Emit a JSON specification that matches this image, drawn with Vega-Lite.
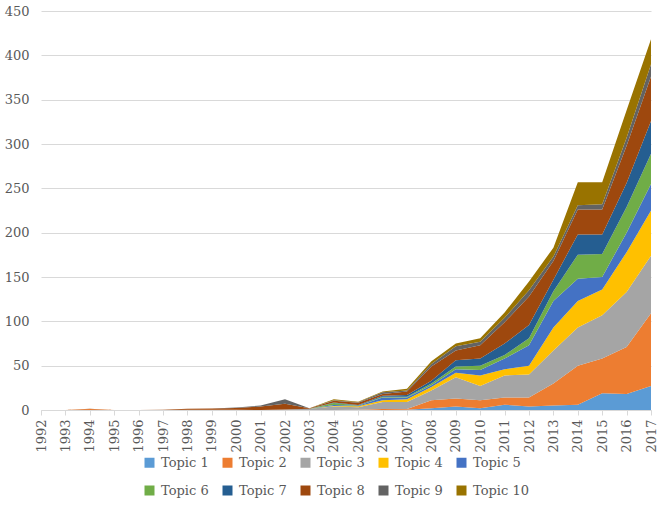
{
  "$schema": "https://vega.github.io/schema/vega-lite/v6.json",
  "autosize": {"type": "none"},
  "width": 610,
  "height": 399,
  "padding": {"left": 41, "top": 11, "right": 9, "bottom": 104},
  "background": "white",
  "config": {
    "view": {"stroke": null},
    "font": "DejaVu Serif",
    "axis": {"labelFont": "DejaVu Serif", "labelColor": "#595959", "labelFontSize": 13, "titleFontSize": 0},
    "legend": {"labelFont": "DejaVu Serif", "labelColor": "#595959", "labelFontSize": 13}
  },
  "datasets": {
    "topics": [
      {"year":1992,"topic":"Topic 1","k":1,"v":0},{"year":1992,"topic":"Topic 2","k":2,"v":0},{"year":1992,"topic":"Topic 3","k":3,"v":0},{"year":1992,"topic":"Topic 4","k":4,"v":0},{"year":1992,"topic":"Topic 5","k":5,"v":0},{"year":1992,"topic":"Topic 6","k":6,"v":0},{"year":1992,"topic":"Topic 7","k":7,"v":0},{"year":1992,"topic":"Topic 8","k":8,"v":0},{"year":1992,"topic":"Topic 9","k":9,"v":0},{"year":1992,"topic":"Topic 10","k":10,"v":0},
      {"year":1993,"topic":"Topic 1","k":1,"v":0},{"year":1993,"topic":"Topic 2","k":2,"v":0},{"year":1993,"topic":"Topic 3","k":3,"v":0},{"year":1993,"topic":"Topic 4","k":4,"v":0},{"year":1993,"topic":"Topic 5","k":5,"v":0},{"year":1993,"topic":"Topic 6","k":6,"v":0},{"year":1993,"topic":"Topic 7","k":7,"v":0},{"year":1993,"topic":"Topic 8","k":8,"v":0},{"year":1993,"topic":"Topic 9","k":9,"v":0},{"year":1993,"topic":"Topic 10","k":10,"v":0},
      {"year":1994,"topic":"Topic 1","k":1,"v":0},{"year":1994,"topic":"Topic 2","k":2,"v":1.0},{"year":1994,"topic":"Topic 3","k":3,"v":0},{"year":1994,"topic":"Topic 4","k":4,"v":0},{"year":1994,"topic":"Topic 5","k":5,"v":0},{"year":1994,"topic":"Topic 6","k":6,"v":0},{"year":1994,"topic":"Topic 7","k":7,"v":0},{"year":1994,"topic":"Topic 8","k":8,"v":0.5},{"year":1994,"topic":"Topic 9","k":9,"v":0},{"year":1994,"topic":"Topic 10","k":10,"v":0},
      {"year":1995,"topic":"Topic 1","k":1,"v":0},{"year":1995,"topic":"Topic 2","k":2,"v":0},{"year":1995,"topic":"Topic 3","k":3,"v":0},{"year":1995,"topic":"Topic 4","k":4,"v":0},{"year":1995,"topic":"Topic 5","k":5,"v":0},{"year":1995,"topic":"Topic 6","k":6,"v":0},{"year":1995,"topic":"Topic 7","k":7,"v":0},{"year":1995,"topic":"Topic 8","k":8,"v":0},{"year":1995,"topic":"Topic 9","k":9,"v":0},{"year":1995,"topic":"Topic 10","k":10,"v":0},
      {"year":1996,"topic":"Topic 1","k":1,"v":0},{"year":1996,"topic":"Topic 2","k":2,"v":0},{"year":1996,"topic":"Topic 3","k":3,"v":0},{"year":1996,"topic":"Topic 4","k":4,"v":0},{"year":1996,"topic":"Topic 5","k":5,"v":0},{"year":1996,"topic":"Topic 6","k":6,"v":0},{"year":1996,"topic":"Topic 7","k":7,"v":0},{"year":1996,"topic":"Topic 8","k":8,"v":0},{"year":1996,"topic":"Topic 9","k":9,"v":0},{"year":1996,"topic":"Topic 10","k":10,"v":0},
      {"year":1997,"topic":"Topic 1","k":1,"v":0},{"year":1997,"topic":"Topic 2","k":2,"v":0},{"year":1997,"topic":"Topic 3","k":3,"v":0},{"year":1997,"topic":"Topic 4","k":4,"v":0},{"year":1997,"topic":"Topic 5","k":5,"v":0},{"year":1997,"topic":"Topic 6","k":6,"v":0},{"year":1997,"topic":"Topic 7","k":7,"v":0},{"year":1997,"topic":"Topic 8","k":8,"v":0.4},{"year":1997,"topic":"Topic 9","k":9,"v":0},{"year":1997,"topic":"Topic 10","k":10,"v":0},
      {"year":1998,"topic":"Topic 1","k":1,"v":0},{"year":1998,"topic":"Topic 2","k":2,"v":0.3},{"year":1998,"topic":"Topic 3","k":3,"v":0},{"year":1998,"topic":"Topic 4","k":4,"v":0},{"year":1998,"topic":"Topic 5","k":5,"v":0},{"year":1998,"topic":"Topic 6","k":6,"v":0},{"year":1998,"topic":"Topic 7","k":7,"v":0},{"year":1998,"topic":"Topic 8","k":8,"v":1.2},{"year":1998,"topic":"Topic 9","k":9,"v":0},{"year":1998,"topic":"Topic 10","k":10,"v":0},
      {"year":1999,"topic":"Topic 1","k":1,"v":0},{"year":1999,"topic":"Topic 2","k":2,"v":0.2},{"year":1999,"topic":"Topic 3","k":3,"v":0},{"year":1999,"topic":"Topic 4","k":4,"v":0},{"year":1999,"topic":"Topic 5","k":5,"v":0},{"year":1999,"topic":"Topic 6","k":6,"v":0},{"year":1999,"topic":"Topic 7","k":7,"v":0},{"year":1999,"topic":"Topic 8","k":8,"v":1.6},{"year":1999,"topic":"Topic 9","k":9,"v":0},{"year":1999,"topic":"Topic 10","k":10,"v":0},
      {"year":2000,"topic":"Topic 1","k":1,"v":0},{"year":2000,"topic":"Topic 2","k":2,"v":0.2},{"year":2000,"topic":"Topic 3","k":3,"v":0},{"year":2000,"topic":"Topic 4","k":4,"v":0},{"year":2000,"topic":"Topic 5","k":5,"v":0},{"year":2000,"topic":"Topic 6","k":6,"v":0},{"year":2000,"topic":"Topic 7","k":7,"v":0},{"year":2000,"topic":"Topic 8","k":8,"v":2},{"year":2000,"topic":"Topic 9","k":9,"v":0.5},{"year":2000,"topic":"Topic 10","k":10,"v":0},
      {"year":2001,"topic":"Topic 1","k":1,"v":0},{"year":2001,"topic":"Topic 2","k":2,"v":0},{"year":2001,"topic":"Topic 3","k":3,"v":0},{"year":2001,"topic":"Topic 4","k":4,"v":0},{"year":2001,"topic":"Topic 5","k":5,"v":0},{"year":2001,"topic":"Topic 6","k":6,"v":0},{"year":2001,"topic":"Topic 7","k":7,"v":0},{"year":2001,"topic":"Topic 8","k":8,"v":4},{"year":2001,"topic":"Topic 9","k":9,"v":1},{"year":2001,"topic":"Topic 10","k":10,"v":0},
      {"year":2002,"topic":"Topic 1","k":1,"v":0},{"year":2002,"topic":"Topic 2","k":2,"v":0},{"year":2002,"topic":"Topic 3","k":3,"v":0.5},{"year":2002,"topic":"Topic 4","k":4,"v":0},{"year":2002,"topic":"Topic 5","k":5,"v":0},{"year":2002,"topic":"Topic 6","k":6,"v":0},{"year":2002,"topic":"Topic 7","k":7,"v":0},{"year":2002,"topic":"Topic 8","k":8,"v":6.5},{"year":2002,"topic":"Topic 9","k":9,"v":5},{"year":2002,"topic":"Topic 10","k":10,"v":0},
      {"year":2003,"topic":"Topic 1","k":1,"v":0},{"year":2003,"topic":"Topic 2","k":2,"v":0},{"year":2003,"topic":"Topic 3","k":3,"v":1.5},{"year":2003,"topic":"Topic 4","k":4,"v":0},{"year":2003,"topic":"Topic 5","k":5,"v":0},{"year":2003,"topic":"Topic 6","k":6,"v":0},{"year":2003,"topic":"Topic 7","k":7,"v":0},{"year":2003,"topic":"Topic 8","k":8,"v":0.5},{"year":2003,"topic":"Topic 9","k":9,"v":0},{"year":2003,"topic":"Topic 10","k":10,"v":0},
      {"year":2004,"topic":"Topic 1","k":1,"v":0},{"year":2004,"topic":"Topic 2","k":2,"v":0},{"year":2004,"topic":"Topic 3","k":3,"v":4},{"year":2004,"topic":"Topic 4","k":4,"v":0.5},{"year":2004,"topic":"Topic 5","k":5,"v":1},{"year":2004,"topic":"Topic 6","k":6,"v":2.5},{"year":2004,"topic":"Topic 7","k":7,"v":0.5},{"year":2004,"topic":"Topic 8","k":8,"v":2},{"year":2004,"topic":"Topic 9","k":9,"v":0.5},{"year":2004,"topic":"Topic 10","k":10,"v":1},
      {"year":2005,"topic":"Topic 1","k":1,"v":0},{"year":2005,"topic":"Topic 2","k":2,"v":0.2},{"year":2005,"topic":"Topic 3","k":3,"v":3},{"year":2005,"topic":"Topic 4","k":4,"v":1},{"year":2005,"topic":"Topic 5","k":5,"v":0.5},{"year":2005,"topic":"Topic 6","k":6,"v":0.5},{"year":2005,"topic":"Topic 7","k":7,"v":0.5},{"year":2005,"topic":"Topic 8","k":8,"v":2.5},{"year":2005,"topic":"Topic 9","k":9,"v":0.5},{"year":2005,"topic":"Topic 10","k":10,"v":0.5},
      {"year":2006,"topic":"Topic 1","k":1,"v":0},{"year":2006,"topic":"Topic 2","k":2,"v":1},{"year":2006,"topic":"Topic 3","k":3,"v":8},{"year":2006,"topic":"Topic 4","k":4,"v":2},{"year":2006,"topic":"Topic 5","k":5,"v":3},{"year":2006,"topic":"Topic 6","k":6,"v":1},{"year":2006,"topic":"Topic 7","k":7,"v":1},{"year":2006,"topic":"Topic 8","k":8,"v":2},{"year":2006,"topic":"Topic 9","k":9,"v":2},{"year":2006,"topic":"Topic 10","k":10,"v":1},
      {"year":2007,"topic":"Topic 1","k":1,"v":0.3},{"year":2007,"topic":"Topic 2","k":2,"v":0.7},{"year":2007,"topic":"Topic 3","k":3,"v":8},{"year":2007,"topic":"Topic 4","k":4,"v":3},{"year":2007,"topic":"Topic 5","k":5,"v":2},{"year":2007,"topic":"Topic 6","k":6,"v":1},{"year":2007,"topic":"Topic 7","k":7,"v":2},{"year":2007,"topic":"Topic 8","k":8,"v":4},{"year":2007,"topic":"Topic 9","k":9,"v":1},{"year":2007,"topic":"Topic 10","k":10,"v":2},
      {"year":2008,"topic":"Topic 1","k":1,"v":2},{"year":2008,"topic":"Topic 2","k":2,"v":9},{"year":2008,"topic":"Topic 3","k":3,"v":11},{"year":2008,"topic":"Topic 4","k":4,"v":4},{"year":2008,"topic":"Topic 5","k":5,"v":2},{"year":2008,"topic":"Topic 6","k":6,"v":2},{"year":2008,"topic":"Topic 7","k":7,"v":3},{"year":2008,"topic":"Topic 8","k":8,"v":16},{"year":2008,"topic":"Topic 9","k":9,"v":3},{"year":2008,"topic":"Topic 10","k":10,"v":3},
      {"year":2009,"topic":"Topic 1","k":1,"v":4},{"year":2009,"topic":"Topic 2","k":2,"v":9},{"year":2009,"topic":"Topic 3","k":3,"v":24},{"year":2009,"topic":"Topic 4","k":4,"v":5},{"year":2009,"topic":"Topic 5","k":5,"v":4},{"year":2009,"topic":"Topic 6","k":6,"v":3},{"year":2009,"topic":"Topic 7","k":7,"v":7},{"year":2009,"topic":"Topic 8","k":8,"v":11},{"year":2009,"topic":"Topic 9","k":9,"v":5},{"year":2009,"topic":"Topic 10","k":10,"v":3},
      {"year":2010,"topic":"Topic 1","k":1,"v":2},{"year":2010,"topic":"Topic 2","k":2,"v":9},{"year":2010,"topic":"Topic 3","k":3,"v":16},{"year":2010,"topic":"Topic 4","k":4,"v":12},{"year":2010,"topic":"Topic 5","k":5,"v":6},{"year":2010,"topic":"Topic 6","k":6,"v":5},{"year":2010,"topic":"Topic 7","k":7,"v":8},{"year":2010,"topic":"Topic 8","k":8,"v":15},{"year":2010,"topic":"Topic 9","k":9,"v":4},{"year":2010,"topic":"Topic 10","k":10,"v":4},
      {"year":2011,"topic":"Topic 1","k":1,"v":6},{"year":2011,"topic":"Topic 2","k":2,"v":8},{"year":2011,"topic":"Topic 3","k":3,"v":25},{"year":2011,"topic":"Topic 4","k":4,"v":7},{"year":2011,"topic":"Topic 5","k":5,"v":12},{"year":2011,"topic":"Topic 6","k":6,"v":4},{"year":2011,"topic":"Topic 7","k":7,"v":13},{"year":2011,"topic":"Topic 8","k":8,"v":24},{"year":2011,"topic":"Topic 9","k":9,"v":5},{"year":2011,"topic":"Topic 10","k":10,"v":6},
      {"year":2012,"topic":"Topic 1","k":1,"v":4},{"year":2012,"topic":"Topic 2","k":2,"v":10},{"year":2012,"topic":"Topic 3","k":3,"v":26},{"year":2012,"topic":"Topic 4","k":4,"v":10},{"year":2012,"topic":"Topic 5","k":5,"v":23},{"year":2012,"topic":"Topic 6","k":6,"v":8},{"year":2012,"topic":"Topic 7","k":7,"v":15},{"year":2012,"topic":"Topic 8","k":8,"v":32},{"year":2012,"topic":"Topic 9","k":9,"v":7},{"year":2012,"topic":"Topic 10","k":10,"v":10},
      {"year":2013,"topic":"Topic 1","k":1,"v":5},{"year":2013,"topic":"Topic 2","k":2,"v":25},{"year":2013,"topic":"Topic 3","k":3,"v":37},{"year":2013,"topic":"Topic 4","k":4,"v":26},{"year":2013,"topic":"Topic 5","k":5,"v":30},{"year":2013,"topic":"Topic 6","k":6,"v":11},{"year":2013,"topic":"Topic 7","k":7,"v":13},{"year":2013,"topic":"Topic 8","k":8,"v":21},{"year":2013,"topic":"Topic 9","k":9,"v":5},{"year":2013,"topic":"Topic 10","k":10,"v":10},
      {"year":2014,"topic":"Topic 1","k":1,"v":6},{"year":2014,"topic":"Topic 2","k":2,"v":44},{"year":2014,"topic":"Topic 3","k":3,"v":43},{"year":2014,"topic":"Topic 4","k":4,"v":30},{"year":2014,"topic":"Topic 5","k":5,"v":25},{"year":2014,"topic":"Topic 6","k":6,"v":27},{"year":2014,"topic":"Topic 7","k":7,"v":23},{"year":2014,"topic":"Topic 8","k":8,"v":28},{"year":2014,"topic":"Topic 9","k":9,"v":5},{"year":2014,"topic":"Topic 10","k":10,"v":26},
      {"year":2015,"topic":"Topic 1","k":1,"v":19},{"year":2015,"topic":"Topic 2","k":2,"v":39},{"year":2015,"topic":"Topic 3","k":3,"v":49},{"year":2015,"topic":"Topic 4","k":4,"v":29},{"year":2015,"topic":"Topic 5","k":5,"v":14},{"year":2015,"topic":"Topic 6","k":6,"v":26},{"year":2015,"topic":"Topic 7","k":7,"v":22},{"year":2015,"topic":"Topic 8","k":8,"v":28},{"year":2015,"topic":"Topic 9","k":9,"v":6},{"year":2015,"topic":"Topic 10","k":10,"v":25},
      {"year":2016,"topic":"Topic 1","k":1,"v":18},{"year":2016,"topic":"Topic 2","k":2,"v":53},{"year":2016,"topic":"Topic 3","k":3,"v":62},{"year":2016,"topic":"Topic 4","k":4,"v":45},{"year":2016,"topic":"Topic 5","k":5,"v":22},{"year":2016,"topic":"Topic 6","k":6,"v":29},{"year":2016,"topic":"Topic 7","k":7,"v":27},{"year":2016,"topic":"Topic 8","k":8,"v":42},{"year":2016,"topic":"Topic 9","k":9,"v":9},{"year":2016,"topic":"Topic 10","k":10,"v":31},
      {"year":2017,"topic":"Topic 1","k":1,"v":27},{"year":2017,"topic":"Topic 2","k":2,"v":82},{"year":2017,"topic":"Topic 3","k":3,"v":65},{"year":2017,"topic":"Topic 4","k":4,"v":51},{"year":2017,"topic":"Topic 5","k":5,"v":30},{"year":2017,"topic":"Topic 6","k":6,"v":34},{"year":2017,"topic":"Topic 7","k":7,"v":37},{"year":2017,"topic":"Topic 8","k":8,"v":50},{"year":2017,"topic":"Topic 9","k":9,"v":14},{"year":2017,"topic":"Topic 10","k":10,"v":28}
    ]
  },
  "data": {"name": "topics"},
  "mark": {"type": "area", "interpolate": "linear"},
  "encoding": {
    "x": {
      "field": "year", "type": "quantitative",
      "scale": {"domain": [1992, 2017], "nice": false, "zero": false},
      "axis": {
        "title": null, "values": [1992,1993,1994,1995,1996,1997,1998,1999,2000,2001,2002,2003,2004,2005,2006,2007,2008,2009,2010,2011,2012,2013,2014,2015,2016,2017],
        "format": "d", "labelAngle": -90, "labelAlign": "right", "labelBaseline": "middle",
        "labelPadding": 4, "grid": false, "domainColor": "#D9D9D9", "tickColor": "#D9D9D9", "tickSize": 5, "labelOverlap": false, "labelFlush": false
      }
    },
    "y": {
      "field": "v", "type": "quantitative", "stack": "zero",
      "scale": {"domain": [0, 450], "nice": false},
      "axis": {
        "title": null, "values": [0,50,100,150,200,250,300,350,400,450],
        "grid": true, "gridColor": "#D9D9D9", "domain": false, "ticks": false, "labelPadding": 12
      }
    },
    "color": {
      "field": "topic", "type": "nominal",
      "scale": {
        "domain": ["Topic 1","Topic 2","Topic 3","Topic 4","Topic 5","Topic 6","Topic 7","Topic 8","Topic 9","Topic 10"],
        "range": ["#5B9BD5","#ED7D31","#A5A5A5","#FFC000","#4472C4","#70AD47","#255E91","#9E480E","#636363","#997300"]
      },
      "legend": {
        "title": null, "orient": "none", "direction": "horizontal", "columns": 5,
        "legendX": 102, "legendY": 445, "symbolType": "square", "symbolSize": 100,
        "symbolStrokeWidth": 0, "columnPadding": 12, "rowPadding": 14, "labelOffset": 5, "padding": 0
      }
    },
    "order": {"field": "k", "type": "quantitative", "sort": "ascending"}
  }
}
